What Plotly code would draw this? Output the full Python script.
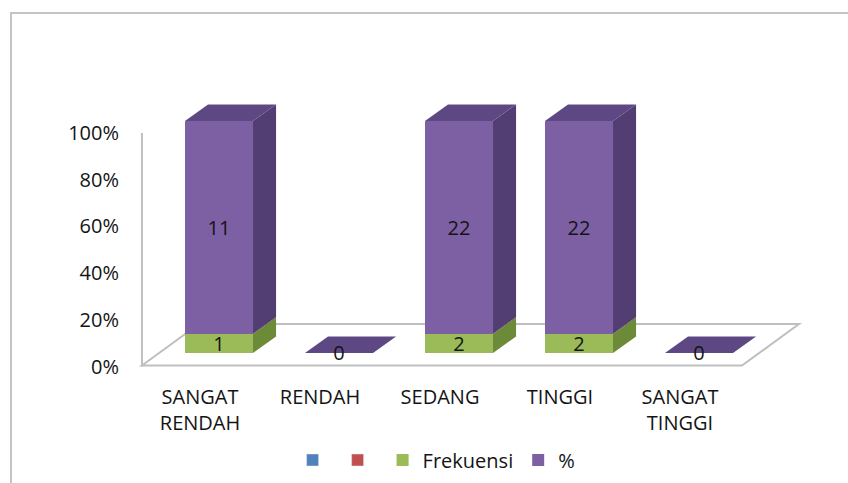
import plotly.graph_objects as go

# ---- data ----
categories = ["SANGAT RENDAH", "RENDAH", "SEDANG", "TINGGI", "SANGAT TINGGI"]
tick_labels = ["SANGAT<br>RENDAH", "RENDAH", "SEDANG", "TINGGI", "SANGAT<br>TINGGI"]
frekuensi = [1, 0, 2, 2, 0]
persen = [11, 0, 22, 22, 0]
y_ticks = [0, 20, 40, 60, 80, 100]
y_tick_text = ["0%", "20%", "40%", "60%", "80%", "100%"]

# ---- style ----
FONT = "Open Sans"
FS = 20
TXT = "#141414"
PURPLE_FRONT = "#7D5FA3"
PURPLE_TOP = "#5E4883"
PURPLE_SIDE = "#523E72"
GREEN_FRONT = "#9BBB59"
GREEN_SIDE = "#6D8A39"
W = 0.567      # bar width (category units)
DX = 0.192     # depth offset x (category units)
DY = 7.1       # depth offset y (percent units)

idx = list(range(len(categories)))
totals = [f + p for f, p in zip(frekuensi, persen)]
share_f = [f / t * 100 if t else 0 for f, t in zip(frekuensi, totals)]
share_p = [p / t * 100 if t else 0 for p, t in zip(persen, totals)]

fig = go.Figure()

# empty legend series (blue, red)
fig.add_trace(go.Bar(x=[None], y=[None], name="", marker_color="#4F81BD", showlegend=True))
fig.add_trace(go.Bar(x=[None], y=[None], name="", marker_color="#C0504D", showlegend=True))

# front faces
fig.add_trace(go.Bar(
    x=idx, y=share_f, name="Frekuensi", marker=dict(color=GREEN_FRONT, line_width=0),
    width=W, text=[str(v) if t else "" for v, t in zip(frekuensi, totals)],
    textposition="inside", insidetextanchor="middle", textangle=0, constraintext="none",
    textfont=dict(family=FONT, size=FS, color=TXT), xaxis="x2", yaxis="y2", hoverinfo="skip"))
fig.add_trace(go.Bar(
    x=idx, y=share_p, name="%", marker=dict(color=PURPLE_FRONT, line_width=0),
    width=W, text=[str(v) if t else "" for v, t in zip(persen, totals)],
    textposition="inside", insidetextanchor="middle", textangle=0, constraintext="none",
    textfont=dict(family=FONT, size=FS, color=TXT), xaxis="x2", yaxis="y2", hoverinfo="skip"))

# 3D side / top faces computed from the data
def poly_add(xs, ys, pts):
    for px, py in pts:
        xs.append(px); ys.append(py)
    xs.append(pts[0][0]); ys.append(pts[0][1])
    xs.append(None); ys.append(None)

gx, gy, psx, psy, ptx, pty = [], [], [], [], [], []
for i, t, sf, sp in zip(idx, totals, share_f, share_p):
    r = i + W / 2
    l = i - W / 2
    if t:
        poly_add(gx, gy, [(r, 0), (r + DX, DY), (r + DX, sf + DY), (r, sf)])
        top = sf + sp
        poly_add(psx, psy, [(r, sf), (r + DX, sf + DY), (r + DX, top + DY), (r, top)])
        poly_add(ptx, pty, [(l, top), (l + DX, top + DY), (r + DX, top + DY), (r, top)])
    else:
        poly_add(ptx, pty, [(l, 0), (l + DX, DY), (r + DX, DY), (r, 0)])

for xs, ys, col in [(gx, gy, GREEN_SIDE), (psx, psy, PURPLE_SIDE), (ptx, pty, PURPLE_TOP)]:
    fig.add_trace(go.Scatter(x=xs, y=ys, mode="lines", fill="toself", fillcolor=col,
                             line=dict(width=0, color=col), showlegend=False,
                             hoverinfo="skip", xaxis="x2", yaxis="y2"))

# labels for empty categories
zero_x = [i for i, t in zip(idx, totals) if not t]
fig.add_trace(go.Scatter(x=zero_x, y=[-1.0] * len(zero_x), mode="text", text=["0"] * len(zero_x),
                         textposition="middle center", textfont=dict(family=FONT, size=FS, color=TXT),
                         showlegend=False, hoverinfo="skip", xaxis="x2", yaxis="y2"))

# floor and wall line
FX0, FX1, FDX = -0.642, 4.358, 0.475
FY0, FY1 = -5.39, 12.5
fig.add_shape(type="path", xref="x2", yref="y2", layer="below",
              path=f"M{FX0},{FY0} L{FX1},{FY0} L{FX1 + FDX},{FY1} L{FX0 + FDX},{FY1} Z",
              line=dict(color="#BFBFBF", width=2), fillcolor="rgba(0,0,0,0)")
fig.add_shape(type="line", xref="x2", yref="y", layer="below",
              x0=FX0, x1=FX0, y0=0, y1=100, line=dict(color="#BFBFBF", width=2))

# outer chart border
fig.add_shape(type="rect", xref="paper", yref="paper", x0=-0.17, x1=1.1, y0=-0.5, y1=1.147,
              line=dict(color="#C4C4C4", width=2), fillcolor="rgba(0,0,0,0)")

fig.update_layout(
    width=848, height=483,
    margin=dict(l=130, r=18, t=60, b=103, autoexpand=False),
    paper_bgcolor="white", plot_bgcolor="white",
    barmode="stack",
    font=dict(family=FONT, size=FS, color=TXT),
    xaxis=dict(range=[-0.58333, 5.25], tickvals=idx, ticktext=tick_labels,
               showgrid=False, zeroline=False, showline=False, ticks="", automargin=False,
               ticklabelstandoff=3, tickfont=dict(family=FONT, size=FS, color=TXT)),
    yaxis=dict(range=[-5.78, 131.26], tickvals=y_ticks, ticktext=y_tick_text,
               showgrid=False, zeroline=False, showline=False, ticks="", automargin=False,
               ticklabelstandoff=10, tickfont=dict(family=FONT, size=FS, color=TXT)),
    xaxis2=dict(overlaying="x", anchor="y2", range=[-0.74167, 5.09167], visible=False),
    yaxis2=dict(overlaying="y", anchor="x2", range=[-11.64, 126.29], visible=False),
    legend=dict(orientation="h", x=0.438, xanchor="center", y=-0.25, yanchor="middle",
                traceorder="normal", font=dict(family=FONT, size=FS, color=TXT),
                bgcolor="rgba(0,0,0,0)"),
    showlegend=True,
)

fig.write_html("out.html", config={"displayModeBar": False},
               post_script="document.body.style.margin='0';")
